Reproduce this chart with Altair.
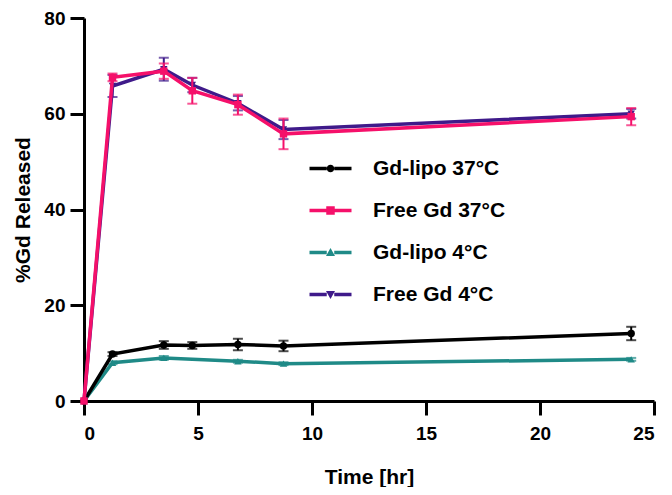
import altair as alt
import pandas as pd

# ---- data ----
series_names = ["Gd-lipo 37°C", "Free Gd 37°C", "Gd-lipo 4°C", "Free Gd 4°C"]
series_colors = ["#000000", "#F5106A", "#1F8A87", "#3F1A8A"]
series_shapes = ["circle", "square", "triangle-up", "triangle-down"]

time_lipo37 = [0, 1.25, 3.5, 4.75, 6.75, 8.75, 24]
lipo37 = [0, 9.8, 11.7, 11.6, 11.8, 11.5, 14.1]
lipo37_err = [0, 0.4, 0.8, 0.7, 1.2, 1.1, 1.4]

time_free37 = [0, 1.25, 3.5, 4.75, 6.75, 8.75, 24]
free37 = [0, 67.6, 68.9, 64.8, 61.9, 55.8, 59.4]
free37_err = [0, 0.8, 1.6, 2.7, 2.1, 3.2, 1.8]

time_lipo4 = [0, 1.25, 3.5, 6.75, 8.75, 24]
lipo4 = [0, 8.0, 9.0, 8.3, 7.8, 8.7]
lipo4_err = [0, 0.3, 0.4, 0.3, 0.3, 0.3]

time_free4 = [0, 1.25, 3.5, 4.75, 6.75, 8.75, 24]
free4 = [0, 65.8, 69.3, 66.0, 62.2, 56.7, 60.0]
free4_err = [0, 2.3, 2.4, 1.5, 1.5, 2.0, 1.0]

x_ticks = [0, 5, 10, 15, 20, 25]
y_ticks = [0, 20, 40, 60, 80]

FONT = "Liberation Sans"

series_data = {
    "Gd-lipo 37°C": (time_lipo37, lipo37, lipo37_err),
    "Free Gd 37°C": (time_free37, free37, free37_err),
    "Gd-lipo 4°C": (time_lipo4, lipo4, lipo4_err),
    "Free Gd 4°C": (time_free4, free4, free4_err),
}

rows = []
for name, (ts, vs, es) in series_data.items():
    for t, v, e in zip(ts, vs, es):
        rows.append({"series": name, "time": t, "value": v, "err": e,
                     "lo": v - e, "hi": v + e})
df = pd.DataFrame(rows)

x_enc = alt.X("time:Q", scale=alt.Scale(domain=[0, 25], nice=False),
              axis=alt.Axis(values=x_ticks, title="Time [hr]", grid=False,
                            labelPadding=9, titlePadding=23))
y_enc = alt.Y("value:Q", scale=alt.Scale(domain=[0, 80], nice=False),
              axis=alt.Axis(values=y_ticks, title="%Gd Released", grid=False,
                            labelPadding=5, titlePadding=10))

base = alt.Chart(df)

# legend symbols: line segment + marker, as custom paths
seg = "M-4.2,-0.35H-0.75V0.35H-4.2ZM0.75,-0.35H4.2V0.35H0.75Z"
legend_paths = [
    seg + "M0.75,0A0.75,0.75,0,1,1,-0.75,0A0.75,0.75,0,1,1,0.75,0Z",
    seg + "M-0.85,-0.85H0.85V0.85H-0.85Z",
    seg + "M0,-0.9L0.9,0.7H-0.9Z",
    seg + "M0,0.9L0.9,-0.7H-0.9Z",
]

draw_order = ["Gd-lipo 4°C", "Gd-lipo 37°C", "Free Gd 4°C", "Free Gd 37°C"]
layers = []
for name in draw_order:
    i = series_names.index(name)
    col = series_colors[i]
    sub = base.transform_filter(alt.datum.series == name)
    line = sub.mark_line(strokeWidth=3.5, color=col).encode(x=x_enc, y=y_enc)
    err_sub = sub.transform_filter(alt.datum.err > 0)
    rule = err_sub.mark_rule(strokeWidth=2, color=col).encode(
        x="time:Q", y="lo:Q", y2="hi:Q")
    cap_lo = err_sub.mark_tick(orient="horizontal", thickness=2, size=10,
                               color=col).encode(x="time:Q", y="lo:Q")
    cap_hi = err_sub.mark_tick(orient="horizontal", thickness=2, size=10,
                               color=col).encode(x="time:Q", y="hi:Q")
    pts = sub.mark_point(filled=True, shape=series_shapes[i], size=55,
                         color=col, opacity=1).encode(x="time:Q", y="value:Q")
    layers += [line, rule, cap_lo, cap_hi, pts]

legend_layer = base.transform_filter(alt.datum.time == 0).mark_point(
    filled=True, opacity=0).encode(
    x="time:Q", y="value:Q",
    color=alt.Color("series:N",
                    scale=alt.Scale(domain=series_names, range=series_colors),
                    legend=alt.Legend(title=None, orient="none",
                                      legendX=236, legendY=140)),
    shape=alt.Shape("series:N",
                    scale=alt.Scale(domain=series_names, range=legend_paths),
                    legend=alt.Legend(title=None, orient="none",
                                      legendX=236, legendY=140)),
)

chart = alt.layer(*layers, legend_layer).properties(
    width=570, height=383,
    autosize=alt.AutoSizeParams(type="none"),
    padding={"left": 76, "top": 10, "right": 10, "bottom": 86},
).configure_view(stroke=None).configure_axis(
    domainColor="black", domainWidth=3, tickColor="black", tickWidth=3,
    tickSize=14, labelFont=FONT, labelFontSize=19, labelFontWeight="bold",
    labelColor="black", titleFont=FONT, titleFontSize=21,
    titleFontWeight="bold", titleColor="black",
).configure_legend(
    labelFont=FONT, labelFontSize=21, labelFontWeight="bold",
    labelColor="black", symbolSize=100, symbolStrokeWidth=0,
    symbolOpacity=1, labelOffset=32, rowPadding=20, padding=0,
)

chart.save("out.html", embed_options={"renderer": "svg", "actions": False})
